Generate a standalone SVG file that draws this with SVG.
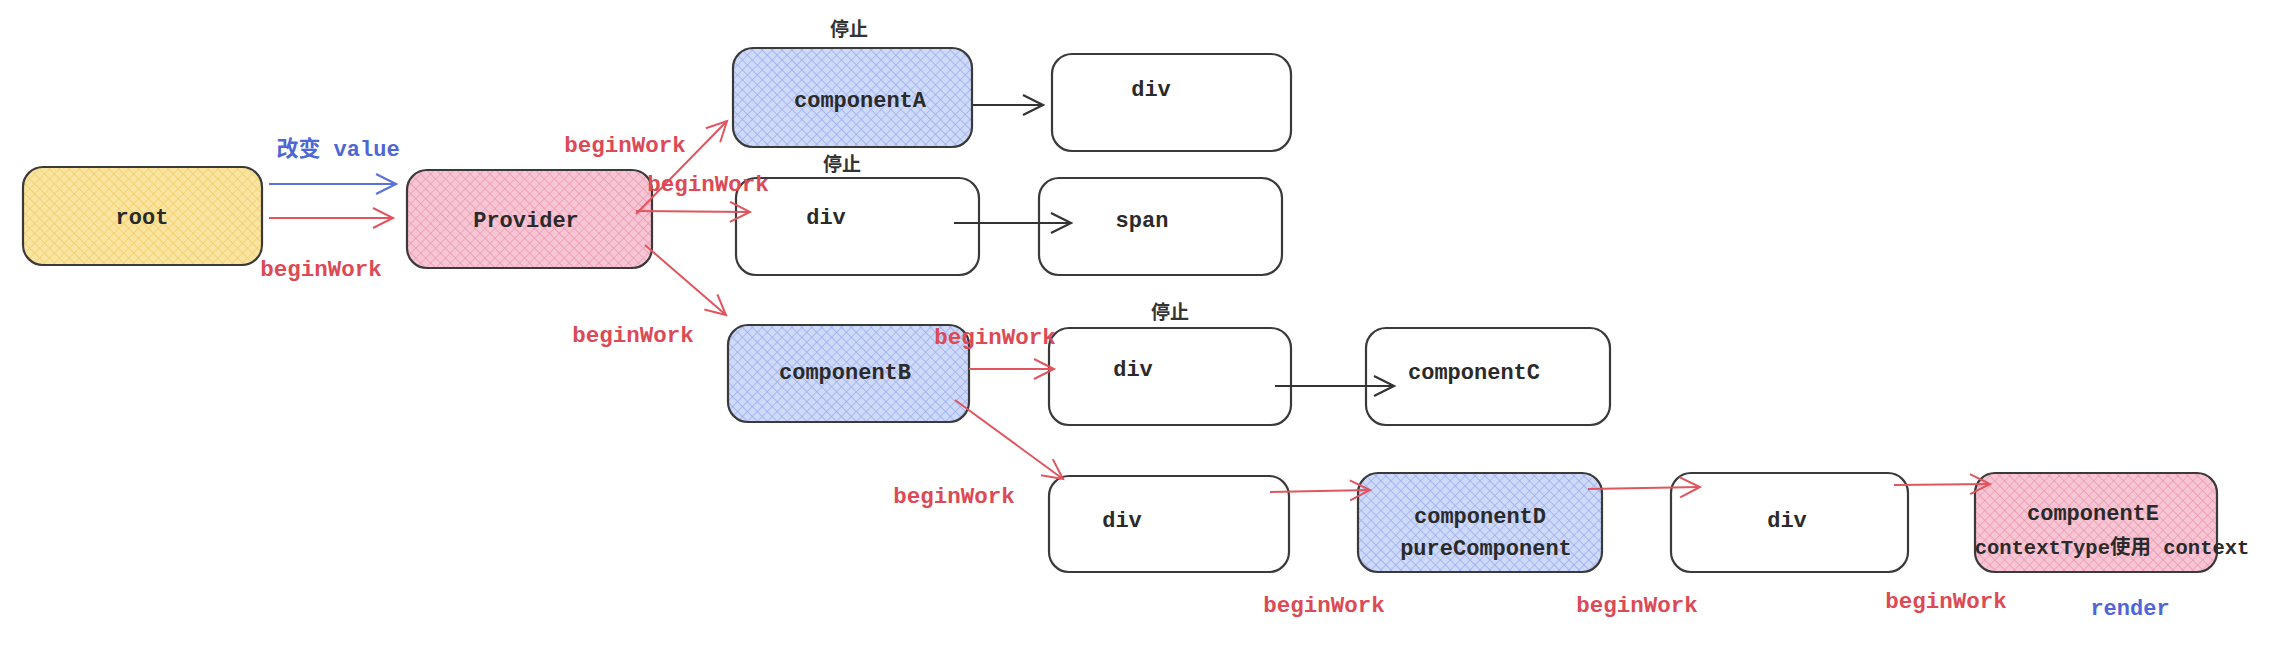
<svg xmlns="http://www.w3.org/2000/svg" width="2284" height="648" viewBox="0 0 2284 648">
<style>
.box{stroke:#3a3a3a;stroke-width:2.2}
.white{fill:#ffffff}
.yel{fill:url(#hatchY)}
.pink{fill:url(#hatchP)}
.blue{fill:url(#hatchB)}
.t{font-family:"Liberation Mono","Noto Sans CJK SC",monospace;font-size:22px;font-weight:bold;fill:#2a2a2a;text-anchor:middle;dominant-baseline:central}
.r{font-family:"Liberation Mono",monospace;font-size:22.5px;font-weight:bold;fill:#dc4a55;text-anchor:middle;dominant-baseline:central}
.bl{font-family:"Liberation Mono","Noto Sans CJK SC",monospace;font-size:22px;font-weight:bold;fill:#4f66d6;text-anchor:middle;dominant-baseline:central}
.stop{font-family:"Noto Sans CJK SC",sans-serif;font-size:19px;font-weight:bold;fill:#333;text-anchor:middle;dominant-baseline:central}
.ar{fill:none;stroke:#e0555e;stroke-width:2;marker-end:url(#mr)}
.ak{fill:none;stroke:#333;stroke-width:2.2;marker-end:url(#mk)}
.ab{fill:none;stroke:#5a73dc;stroke-width:2.2;marker-end:url(#mb)}
</style>
<defs>
<pattern id="hatchY" patternUnits="userSpaceOnUse" width="7" height="7" patternTransform="rotate(45)">
<rect width="7" height="7" fill="#fae4a2"/>
<path d="M0 0H7M0 0V7" stroke="#f3cd62" stroke-width="1.3"/>
</pattern>
<pattern id="hatchP" patternUnits="userSpaceOnUse" width="7" height="7" patternTransform="rotate(45)">
<rect width="7" height="7" fill="#f7c6d4"/>
<path d="M0 0H7M0 0V7" stroke="#ec95b0" stroke-width="1.3"/>
</pattern>
<pattern id="hatchB" patternUnits="userSpaceOnUse" width="7" height="7" patternTransform="rotate(45)">
<rect width="7" height="7" fill="#cfd9f8"/>
<path d="M0 0H7M0 0V7" stroke="#97acee" stroke-width="1.3"/>
</pattern>
<marker id="mr" markerUnits="userSpaceOnUse" markerWidth="30" markerHeight="30" refX="22" refY="11" orient="auto">
<path d="M2 1L22 11L2 21" fill="none" stroke="#e0555e" stroke-width="2"/>
</marker>
<marker id="mk" markerUnits="userSpaceOnUse" markerWidth="30" markerHeight="30" refX="22" refY="11" orient="auto">
<path d="M2 1L22 11L2 21" fill="none" stroke="#333" stroke-width="2.2"/>
</marker>
<marker id="mb" markerUnits="userSpaceOnUse" markerWidth="30" markerHeight="30" refX="22" refY="11" orient="auto">
<path d="M2 1L22 11L2 21" fill="none" stroke="#5a73dc" stroke-width="2.2"/>
</marker>
</defs>
<rect width="2284" height="648" fill="#ffffff"/>

<g id="root"><rect class="box yel" x="23" y="167" width="239" height="98" rx="20"/><text class="t" x="142" y="218">root</text></g>
<g id="provider"><rect class="box pink" x="407" y="170" width="245" height="98" rx="20"/><text class="t" x="526" y="221">Provider</text></g>
<g id="componentA"><rect class="box blue" x="733" y="48" width="239" height="99" rx="20"/><text class="t" x="860" y="101">componentA</text></g>
<g id="divA"><rect class="box white" x="1052" y="54" width="239" height="97" rx="20"/><text class="t" x="1151" y="90">div</text></g>
<g id="div2"><rect class="box white" x="736" y="178" width="243" height="97" rx="20"/><text class="t" x="826" y="218">div</text></g>
<g id="span"><rect class="box white" x="1039" y="178" width="243" height="97" rx="20"/><text class="t" x="1142" y="221">span</text></g>
<g id="componentB"><rect class="box blue" x="728" y="325" width="241" height="97" rx="20"/><text class="t" x="845" y="373">componentB</text></g>
<g id="div3"><rect class="box white" x="1049" y="328" width="242" height="97" rx="20"/><text class="t" x="1133" y="370">div</text></g>
<g id="componentC"><rect class="box white" x="1366" y="328" width="244" height="97" rx="20"/><text class="t" x="1474" y="373">componentC</text></g>
<g id="div4"><rect class="box white" x="1049" y="476" width="240" height="96" rx="20"/><text class="t" x="1122" y="521">div</text></g>
<g id="componentD"><rect class="box blue" x="1358" y="473" width="244" height="99" rx="20"/><text class="t" x="1480" y="517">componentD</text><text class="t" x="1486" y="549">pureComponent</text></g>
<g id="div5"><rect class="box white" x="1671" y="473" width="237" height="99" rx="20"/><text class="t" x="1787" y="521">div</text></g>
<g id="componentE"><rect class="box pink" x="1975" y="473" width="242" height="99" rx="20"/><text class="t" x="2093" y="514">componentE</text><text class="t" x="2112" y="548" style="font-size:20.5px">contextType使用 context</text></g>

<g id="connectors">
<path class="ab" d="M269 184L396 184"/>
<path class="ar" d="M269 218L393 218"/>
<path class="ar" d="M636 214L727 121"/>
<path class="ar" d="M636 211L750 212"/>
<path class="ar" d="M645 245L726 315"/>
<path class="ak" d="M973 105L1043 105"/>
<path class="ak" d="M954 223L1071 223"/>
<path class="ar" d="M969 369L1054 369"/>
<path class="ak" d="M1275 386L1394 386"/>
<path class="ar" d="M955 400L1063 479"/>
<path class="ar" d="M1270 492L1370 490"/>
<path class="ar" d="M1588 489L1700 487"/>
<path class="ar" d="M1894 485L1990 484"/>
</g>

<g id="labels">
<text class="bl" x="338" y="150">改变 value</text>
<text class="r" x="321" y="270">beginWork</text>
<text class="stop" x="849" y="27">停止</text>
<text class="stop" x="842" y="162">停止</text>
<text class="stop" x="1170" y="310">停止</text>
<text class="r" x="625" y="146">beginWork</text>
<text class="r" x="708" y="185">beginWork</text>
<text class="r" x="633" y="336">beginWork</text>
<text class="r" x="995" y="338">beginWork</text>
<text class="r" x="954" y="497">beginWork</text>
<text class="r" x="1324" y="606">beginWork</text>
<text class="r" x="1637" y="606">beginWork</text>
<text class="r" x="1946" y="602">beginWork</text>
<text class="bl" x="2130" y="609">render</text>
</g>
</svg>
